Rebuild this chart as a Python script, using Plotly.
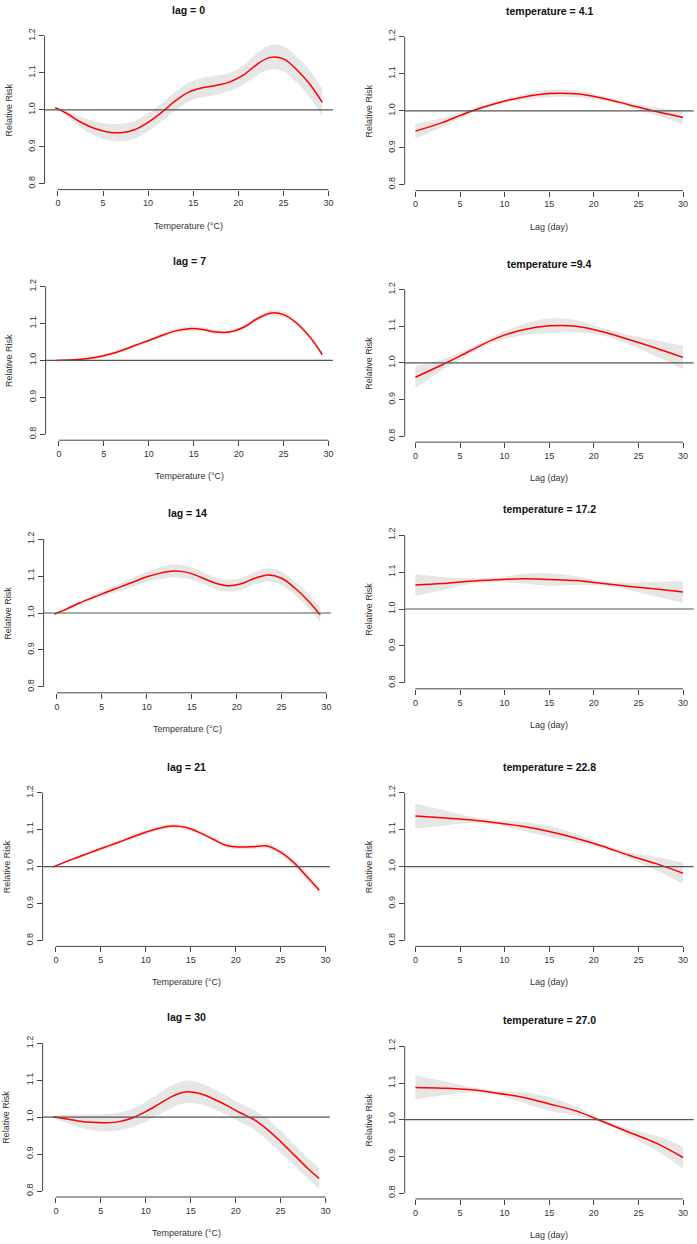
import plotly.graph_objects as go

# ---------------- data ----------------
temp_x = [-0.3, 1, 2.5, 4, 5.5, 7, 8.5, 10, 11.5, 13, 14.5, 16, 17.5, 19, 20.5, 22, 23.5, 25, 26.5, 28, 29.3]

rr_lag0 = [1.006, 0.990, 0.967, 0.950, 0.940, 0.938, 0.946, 0.966, 0.993, 1.024, 1.048, 1.060, 1.066, 1.075,
           1.093, 1.122, 1.142, 1.138, 1.108, 1.067, 1.020]
hw_lag0 = [0.002, 0.007, 0.014, 0.019, 0.022, 0.024, 0.024, 0.024, 0.024, 0.025, 0.026, 0.026, 0.026, 0.025,
           0.026, 0.030, 0.033, 0.034, 0.035, 0.037, 0.038]

rr_lag7 = [1.000, 1.001, 1.003, 1.008, 1.016, 1.027, 1.041, 1.054, 1.068, 1.080, 1.086, 1.084, 1.077, 1.077,
           1.089, 1.112, 1.128, 1.124, 1.100, 1.061, 1.016]
hw_lag7 = [0.001, 0.002, 0.003, 0.004, 0.004, 0.005, 0.005, 0.005, 0.006, 0.006, 0.006, 0.006, 0.006, 0.006,
           0.006, 0.007, 0.008, 0.008, 0.008, 0.008, 0.008]

rr_lag14 = [0.997, 1.010, 1.027, 1.042, 1.056, 1.070, 1.084, 1.098, 1.108, 1.114, 1.110, 1.097, 1.082, 1.074,
            1.079, 1.094, 1.103, 1.094, 1.067, 1.032, 0.995]
hw_lag14 = [0.004, 0.005, 0.006, 0.007, 0.008, 0.010, 0.012, 0.014, 0.016, 0.017, 0.017, 0.016, 0.016, 0.016,
            0.016, 0.017, 0.018, 0.018, 0.018, 0.019, 0.019]

rr_lag21 = [0.999, 1.012, 1.026, 1.040, 1.053, 1.066, 1.080, 1.093, 1.104, 1.110, 1.106, 1.092, 1.074, 1.057,
            1.053, 1.054, 1.056, 1.039, 1.010, 0.971, 0.936]
hw_lag21 = [0.002, 0.003, 0.004, 0.005, 0.005, 0.006, 0.006, 0.006, 0.006, 0.006, 0.006, 0.006, 0.006, 0.006,
            0.006, 0.006, 0.007, 0.008, 0.009, 0.010, 0.010]

rr_lag30 = [1.001, 0.996, 0.990, 0.986, 0.985, 0.988, 0.998, 1.015, 1.036, 1.057, 1.069, 1.064, 1.050, 1.032,
            1.012, 0.994, 0.967, 0.934, 0.898, 0.862, 0.834]
hw_lag30 = [0.003, 0.010, 0.017, 0.021, 0.023, 0.024, 0.025, 0.027, 0.029, 0.030, 0.030, 0.029, 0.027, 0.026,
            0.025, 0.026, 0.029, 0.030, 0.029, 0.028, 0.028]

lag_x = [0, 3, 6, 9, 12, 15, 18, 21, 24, 27, 30]

rr_t41 = [0.945, 0.968, 0.997, 1.020, 1.037, 1.047, 1.046, 1.034, 1.016, 0.998, 0.982]
hw_t41 = [0.020, 0.012, 0.006, 0.005, 0.007, 0.010, 0.009, 0.006, 0.006, 0.011, 0.018]

rr_t94 = [0.961, 0.995, 1.031, 1.067, 1.090, 1.101, 1.100, 1.085, 1.063, 1.040, 1.015]
hw_t94 = [0.030, 0.014, 0.008, 0.009, 0.015, 0.020, 0.017, 0.010, 0.013, 0.022, 0.032]

rr_t172 = [1.065, 1.069, 1.075, 1.079, 1.082, 1.080, 1.077, 1.069, 1.061, 1.054, 1.046]
hw_t172 = [0.030, 0.018, 0.008, 0.006, 0.013, 0.017, 0.012, 0.006, 0.010, 0.020, 0.030]

rr_t228 = [1.137, 1.132, 1.127, 1.119, 1.109, 1.095, 1.077, 1.055, 1.030, 1.008, 0.982]
hw_t228 = [0.034, 0.022, 0.009, 0.006, 0.012, 0.015, 0.011, 0.006, 0.008, 0.018, 0.029]

rr_t270 = [1.088, 1.086, 1.082, 1.073, 1.061, 1.043, 1.024, 0.995, 0.965, 0.936, 0.897]
hw_t270 = [0.033, 0.020, 0.008, 0.006, 0.014, 0.019, 0.012, 0.005, 0.010, 0.020, 0.030]

titles_left = ["lag = 0", "lag = 7", "lag = 14", "lag = 21", "lag = 30"]
titles_right = ["temperature = 4.1", "temperature =9.4", "temperature = 17.2",
                "temperature = 22.8", "temperature = 27.0"]
x_ticks = [0, 5, 10, 15, 20, 25, 30]
y_ticks = [0.8, 0.9, 1.0, 1.1, 1.2]
y_tick_labels = ["0.8", "0.9", "1.0", "1.1", "1.2"]
xlab_left = "Temperature (°C)"
xlab_right = "Lag (day)"
ylab = "Relative Risk"

# ---------------- layout geometry (pixels) ----------------
W, H = 697, 1244
FONT = "Liberation Sans, Arial, sans-serif"
# (tick0 px, tick30 px, y=1.2 px, y=0.8 px)
geom_left = [(58, 329, 34, 182), (59, 329, 285, 433), (57, 327, 538, 686), (56, 326, 792, 940), (56, 326, 1043, 1191)]
geom_right = [(416, 684, 35, 183), (416, 684, 288, 435), (416, 684, 534, 682), (416, 684, 792, 940), (416, 684, 1046, 1193)]
XR_LEFT = [-1.48, 30.48]
XR_RIGHT = [-1.2, 31.2]
YR = [0.784, 1.216]

panels = []
left_data = [(rr_lag0, hw_lag0), (rr_lag7, hw_lag7), (rr_lag14, hw_lag14), (rr_lag21, hw_lag21), (rr_lag30, hw_lag30)]
right_data = [(rr_t41, hw_t41), (rr_t94, hw_t94), (rr_t172, hw_t172), (rr_t228, hw_t228), (rr_t270, hw_t270)]
for i in range(5):
    panels.append(dict(x=temp_x, rr=left_data[i][0], hw=left_data[i][1], title=titles_left[i],
                       xlab=xlab_left, geom=geom_left[i], xr=XR_LEFT))
    panels.append(dict(x=lag_x, rr=right_data[i][0], hw=right_data[i][1], title=titles_right[i],
                       xlab=xlab_right, geom=geom_right[i], xr=XR_RIGHT))

fig = go.Figure()
shapes = []
annotations = []
layout_axes = {}

for k, p in enumerate(panels):
    n = k + 1
    xa = "x" if n == 1 else f"x{n}"
    ya = "y" if n == 1 else f"y{n}"
    x0px, x30px, y12px, y08px = p["geom"]
    xppu = (x30px - x0px) / 30.0
    yppu = (y08px - y12px) / 0.4
    left_px = x0px + p["xr"][0] * xppu
    right_px = x0px + p["xr"][1] * xppu
    top_px = y12px - (YR[1] - 1.2) * yppu
    bot_px = y08px + (0.8 - YR[0]) * yppu
    dom_x = [left_px / W, right_px / W]
    dom_y = [1 - bot_px / H, 1 - top_px / H]

    lo = [r - h for r, h in zip(p["rr"], p["hw"])]
    hi = [r + h for r, h in zip(p["rr"], p["hw"])]
    fig.add_trace(go.Scatter(x=p["x"], y=hi, mode="lines", line=dict(width=0, shape="spline", smoothing=1.0),
                             hoverinfo="skip", showlegend=False, xaxis=xa, yaxis=ya))
    fig.add_trace(go.Scatter(x=p["x"], y=lo, mode="lines", line=dict(width=0, shape="spline", smoothing=1.0),
                             fill="tonexty", fillcolor="#e6e6e6", hoverinfo="skip", showlegend=False,
                             xaxis=xa, yaxis=ya))
    fig.add_trace(go.Scatter(x=p["x"], y=p["rr"], mode="lines",
                             line=dict(color="#ff0000", width=1.5, shape="spline", smoothing=1.0),
                             showlegend=False, xaxis=xa, yaxis=ya))

    axkey = "" if n == 1 else str(n)
    layout_axes[f"xaxis{axkey}"] = dict(domain=dom_x, range=p["xr"], anchor=ya, showgrid=False, zeroline=False,
                                        showline=False, tickmode="array", tickvals=x_ticks, ticks="outside",
                                        ticklen=5, tickwidth=1, tickcolor="#444",
                                        tickfont=dict(family=FONT, size=9, color="#333"))
    layout_axes[f"yaxis{axkey}"] = dict(domain=dom_y, range=YR, anchor=xa, showgrid=False, zeroline=False,
                                        showline=False, tickmode="array", tickvals=y_ticks, ticktext=y_tick_labels,
                                        ticks="outside", ticklen=5, tickwidth=1, tickcolor="#444", tickangle=-90,
                                        tickfont=dict(family=FONT, size=9, color="#333"))

    # R-style detached axis lines
    shapes.append(dict(type="line", xref=xa, yref=f"{ya} domain", x0=x_ticks[0], x1=x_ticks[-1], y0=0, y1=0,
                       line=dict(color="#444", width=1)))
    shapes.append(dict(type="line", xref=f"{xa} domain", yref=ya, x0=0, x1=0, y0=y_ticks[0], y1=y_ticks[-1],
                       line=dict(color="#444", width=1)))
    # reference line at RR = 1
    shapes.append(dict(type="line", xref=f"{xa} domain", yref=ya, x0=0, x1=1, y0=1, y1=1,
                       line=dict(color="#555", width=1.2), layer="above"))

    cx = (left_px + right_px) / 2 / W
    title_px = top_px - 20
    annotations.append(dict(text=f"<b>{p['title']}</b>", x=cx, y=1 - title_px / H, xref="paper", yref="paper",
                            showarrow=False, xanchor="center", yanchor="middle",
                            font=dict(family=FONT, size=10.5, color="#111")))
    annotations.append(dict(text=p["xlab"], x=cx, y=1 - (bot_px + 36) / H, xref="paper", yref="paper",
                            showarrow=False, xanchor="center", yanchor="middle",
                            font=dict(family=FONT, size=9, color="#333")))
    annotations.append(dict(text=ylab, x=(left_px - 36) / W, y=1 - ((top_px + bot_px) / 2) / H,
                            xref="paper", yref="paper", showarrow=False, xanchor="center", yanchor="middle",
                            textangle=-90, font=dict(family=FONT, size=9, color="#333")))

fig.update_layout(width=W, height=H, margin=dict(l=0, r=0, t=0, b=0), plot_bgcolor="white",
                  paper_bgcolor="white", shapes=shapes, annotations=annotations, showlegend=False,
                  **layout_axes)

fig.write_html("out.html", config={"displayModeBar": False},
               post_script="document.body.style.margin='0';document.body.style.overflow='hidden';")
